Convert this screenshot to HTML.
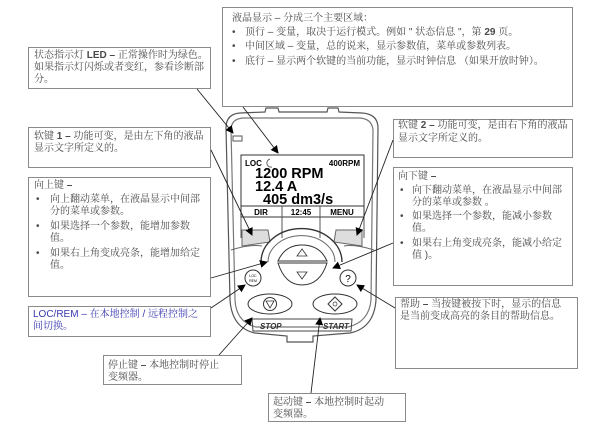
<!DOCTYPE html>
<html><head><meta charset="utf-8"><style>
html,body{margin:0;padding:0;background:#fff;}
#c{position:relative;width:600px;height:434px;overflow:hidden;font-family:"Liberation Sans","Noto Serif CJK SC",serif;color:#4a4a4a;}
.b{position:absolute;border:1px solid #8a8a8a;background:#fff;box-sizing:border-box;}
.t{position:absolute;font-size:10px;line-height:12px;white-space:nowrap;}
.blue{color:#3a3ab0;}
</style></head><body><div id="c">

<div class="b" style="left:222px;top:7px;width:351px;height:100px"></div>
<div class="b" style="left:28px;top:47px;width:183px;height:42px"></div>
<div class="b" style="left:28px;top:127px;width:183px;height:41px"></div>
<div class="b" style="left:28px;top:177px;width:183px;height:120px"></div>
<div class="b" style="left:28px;top:306px;width:183px;height:31px"></div>
<div class="b" style="left:393px;top:119px;width:180px;height:39px"></div>
<div class="b" style="left:393px;top:167px;width:180px;height:119px"></div>
<div class="b" style="left:395px;top:297px;width:183px;height:72px"></div>
<div class="b" style="left:103px;top:355px;width:139px;height:30px"></div>
<div class="b" style="left:268px;top:393px;width:138px;height:29px"></div>

<svg width="600" height="434" style="position:absolute;left:0;top:0">
<defs><marker id="a" markerWidth="8" markerHeight="8" refX="7" refY="4" orient="auto" markerUnits="userSpaceOnUse"><path d="M0,0 L8,4 L0,8 z" fill="#000"/></marker></defs>
<g fill="none" stroke="#555" stroke-width="1.2">
<path d="M226,128 Q226,114 240,113 L265,112 L266,108 L278,108 L279,112 L327,112 L328,108 L338,108 L339,112 L362,113 Q378,114 378,128 L376,300 Q374,328 350,333 L313,336 L313,342 L287,342 L287,336 L255,333 Q232,328 230,300 Z"/>
<path d="M231,130 Q231,119 243,118 L360,118 Q372,119 373,130 L371,300 Q369,322 348,327 L256,327 Q236,322 235,300 Z" stroke="#777"/>
</g>
<rect x="233" y="136" width="9" height="5" fill="none" stroke="#555"/>
<rect x="241" y="155" width="123" height="62" fill="#fff" stroke="#333"/>
<line x1="241" y1="206" x2="364" y2="206" stroke="#333"/>
<path d="M282,206 V238 M320,206 V238 M241,217 V238 M364,217 V238" stroke="#555" fill="none"/>
<path d="M242,230 L268,230 L270,242 L242,246 Z" fill="#ddd" stroke="#666"/>
<path d="M336,230 L362,230 L362,246 L334,242 Z" fill="#ddd" stroke="#666"/>
<path d="M231,250 Q250,244 262,246 M374,250 Q355,244 344,246" stroke="#666" fill="none"/>
<path d="M261,262 A40,33 0 0 1 342,262" fill="none" stroke="#333" stroke-width="1.4"/>
<path d="M268,262 A33,26 0 0 1 335,262" fill="none" stroke="#666"/>
<path d="M278,261 Q285,245 302,245 Q320,245 327,261 Z" fill="#fff" stroke="#333"/>
<path d="M278,263 L327,263 Q320,285 302,285 Q285,285 278,263 Z" fill="#fff" stroke="#333"/>
<path d="M297,256 L302,249 L307,256 Z" fill="none" stroke="#333" stroke-width="0.8"/>
<path d="M297,272 L302,279 L307,272 Z" fill="none" stroke="#333" stroke-width="0.8"/>
<circle cx="253" cy="278" r="8" fill="#fff" stroke="#333"/>
<text x="253" y="277" font-size="3.5" text-anchor="middle" font-family="Liberation Sans">LOC</text>
<text x="253" y="282" font-size="3.5" text-anchor="middle" font-family="Liberation Sans">REM</text>
<circle cx="348" cy="278" r="8" fill="#fff" stroke="#333"/>
<text x="348" y="282" font-size="10" text-anchor="middle" font-family="Liberation Sans">?</text>
<ellipse cx="270" cy="304" rx="22" ry="10" fill="#fff" stroke="#333"/>
<circle cx="270" cy="304" r="6.5" fill="none" stroke="#333"/>
<path d="M266,301 L274,301 L270,308 Z" fill="none" stroke="#333" stroke-width="0.8"/>
<ellipse cx="335" cy="304" rx="22" ry="10" fill="#fff" stroke="#333"/>
<path d="M335,297 L342,304 L335,311 L328,304 Z" fill="none" stroke="#333"/>
<circle cx="335" cy="304" r="2" fill="none" stroke="#333" stroke-width="0.7"/>
<path d="M252,319 L352,319 L351,331 L253,331 Z" fill="none" stroke="#444"/>
<text x="260" y="329" font-size="8" font-style="italic" font-weight="bold" font-family="Liberation Sans" fill="#333">STOP</text>
<text x="323" y="329" font-size="8" font-style="italic" font-weight="bold" font-family="Liberation Sans" fill="#333">START</text>
<text x="245" y="166" font-size="8" font-weight="bold" font-family="Liberation Sans">LOC</text>
<path d="M270,159 A4,4 0 1 0 272,167" fill="none" stroke="#666"/>
<text x="360" y="166" font-size="8" font-weight="bold" text-anchor="end" font-family="Liberation Sans">400RPM</text>
<text x="255" y="178" font-size="14.5" font-weight="bold" font-family="Liberation Sans">1200 RPM</text>
<text x="255" y="191" font-size="14.5" font-weight="bold" font-family="Liberation Sans">12.4 A</text>
<text x="263" y="204" font-size="14.5" font-weight="bold" font-family="Liberation Sans">405 dm3/s</text>
<text x="261" y="215" font-size="8" font-weight="bold" text-anchor="middle" font-family="Liberation Sans">DIR</text>
<text x="301" y="215" font-size="8" font-weight="bold" text-anchor="middle" font-family="Liberation Sans">12:45</text>
<text x="342" y="215" font-size="8" font-weight="bold" text-anchor="middle" font-family="Liberation Sans">MENU</text>
<g stroke="#222" stroke-width="0.9" marker-end="url(#a)">
<line x1="243" y1="107" x2="278" y2="153"/>
<line x1="197" y1="89" x2="233" y2="133"/>
<line x1="211" y1="150" x2="252" y2="235"/>
<line x1="393" y1="140" x2="357" y2="235"/>
<line x1="211" y1="278" x2="267" y2="262"/>
<line x1="393" y1="243" x2="333" y2="268"/>
<line x1="211" y1="308" x2="245" y2="285"/>
<line x1="395" y1="308" x2="357" y2="285"/>
<line x1="219" y1="355" x2="252" y2="318"/>
<line x1="311" y1="393" x2="320" y2="318"/>
</g>
</svg>

<div class="t" style="left:232px;top:13px">液晶显示 – 分成三个主要区域：</div>
<div class="t" style="left:232px;top:27px">•</div><div class="t" style="left:245px;top:27px">顶行 – 变量，取决于运行模式。例如 " 状态信息 "，第 <b>29</b> 页。</div>
<div class="t" style="left:232px;top:41px">•</div><div class="t" style="left:245px;top:41px">中间区域 – 变量，总的说来，显示参数值，菜单或参数列表。</div>
<div class="t" style="left:232px;top:56px">•</div><div class="t" style="left:245px;top:56px">底行 – 显示两个软键的当前功能，显示时钟信息 （如果开放时钟）。</div>

<div class="t" style="left:34px;top:50px">状态指示灯 <b>LED –</b> 正常操作时为绿色。</div>
<div class="t" style="left:34px;top:62px">如果指示灯闪烁或者变红，参看诊断部</div>
<div class="t" style="left:34px;top:74px">分。</div>

<div class="t" style="left:34px;top:131px">软键 <b>1 –</b> 功能可变，是由左下角的液晶</div>
<div class="t" style="left:34px;top:143px">显示文字所定义的。</div>

<div class="t" style="left:34px;top:180px">向上键 <b>–</b></div>
<div class="t" style="left:36px;top:194px">•</div><div class="t" style="left:50px;top:194px">向上翻动菜单，在液晶显示中间部<br>分的菜单或参数。</div>
<div class="t" style="left:36px;top:221px">•</div><div class="t" style="left:50px;top:221px">如果选择一个参数，能增加参数<br>值。</div>
<div class="t" style="left:36px;top:248px">•</div><div class="t" style="left:50px;top:248px">如果右上角变成亮条，能增加给定<br>值。</div>

<div class="t blue" style="left:33px;top:309px">LOC/REM – 在本地控制 / 远程控制之</div>
<div class="t blue" style="left:33px;top:321px">间切换。</div>

<div class="t" style="left:398px;top:120px">软键 <b>2 –</b> 功能可变，是由右下角的液晶</div>
<div class="t" style="left:398px;top:133px">显示文字所定义的。</div>

<div class="t" style="left:398px;top:171px">向下键 <b>–</b></div>
<div class="t" style="left:400px;top:185px">•</div><div class="t" style="left:412px;top:185px">向下翻动菜单，在液晶显示中间部<br>分的菜单或参数 。</div>
<div class="t" style="left:400px;top:211px">•</div><div class="t" style="left:412px;top:211px">如果选择一个参数，能减小参数<br>值。</div>
<div class="t" style="left:400px;top:238px">•</div><div class="t" style="left:412px;top:238px">如果右上角变成亮条，能减小给定<br>值 )。</div>

<div class="t" style="left:400px;top:299px">帮助 <b>–</b> 当按键被按下时，显示的信息</div>
<div class="t" style="left:400px;top:311px">是当前变成高亮的条目的帮助信息。</div>

<div class="t" style="left:108px;top:360px">停止键 <b>–</b> 本地控制时停止</div>
<div class="t" style="left:108px;top:372px">变频器。</div>

<div class="t" style="left:273px;top:397px">起动键 <b>–</b> 本地控制时起动</div>
<div class="t" style="left:273px;top:409px">变频器。</div>

</div></body></html>
